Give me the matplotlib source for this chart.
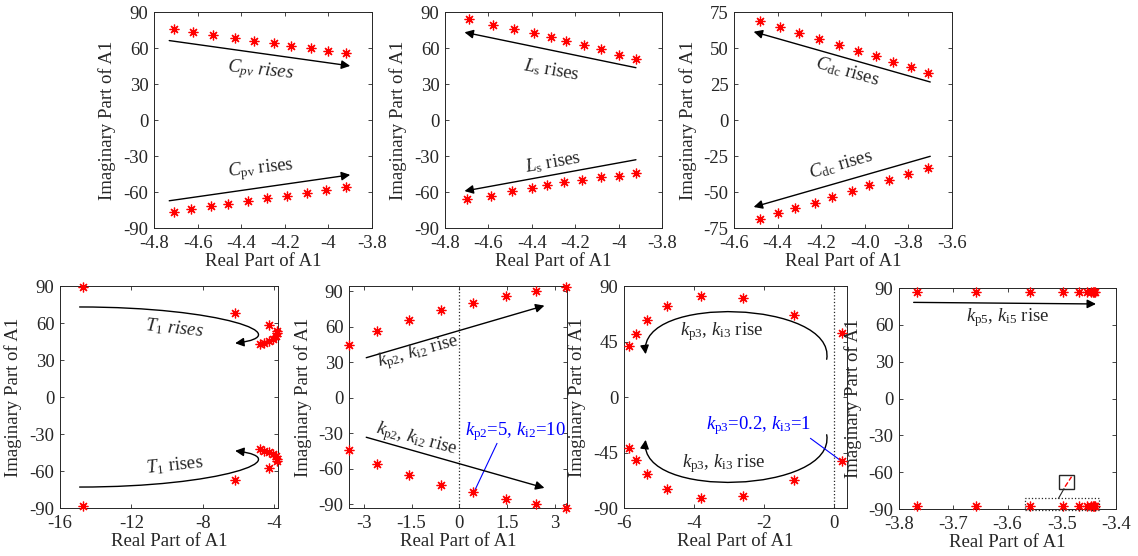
import numpy as np
import matplotlib
matplotlib.use('Agg')
import matplotlib.pyplot as plt
from matplotlib.path import Path
from matplotlib.patches import FancyArrowPatch, Rectangle

plt.rcParams['font.family'] = ['Liberation Serif', 'DejaVu Serif']
plt.rcParams['mathtext.fontset'] = 'custom'
plt.rcParams['mathtext.rm'] = 'Liberation Serif'
plt.rcParams['mathtext.it'] = 'Liberation Serif:italic'
plt.rcParams['axes.unicode_minus'] = False

TXT = '#262626'
RED = '#ff0000'
BLUE = '#0000ff'

# ---- data ----
# (a) C_pv
cpv_re_up = [-4.71, -4.62, -4.53, -4.43, -4.34, -4.25, -4.17, -4.08, -4.00, -3.92]
cpv_im_up = [75.6, 73.1, 70.9, 68.7, 66.2, 64.0, 62.0, 59.8, 57.6, 55.7]
cpv_re_lo = [-4.71, -4.63, -4.54, -4.46, -4.37, -4.28, -4.19, -4.10, -4.01, -3.92]
cpv_im_lo = [-76.4, -73.9, -72.0, -69.8, -67.6, -65.4, -63.1, -60.6, -58.4, -56.2]

# (b) L_s
ls_re_up = [-4.69, -4.58, -4.48, -4.39, -4.31, -4.24, -4.16, -4.08, -4.00, -3.92]
ls_im_up = [84.4, 79.2, 75.6, 72.2, 69.2, 66.1, 62.8, 59.2, 54.2, 50.6]
ls_re_lo = [-4.70, -4.59, -4.49, -4.40, -4.33, -4.25, -4.17, -4.08, -4.00, -3.92]
ls_im_lo = [-66.1, -63.6, -59.4, -56.7, -53.9, -51.4, -49.7, -47.2, -46.4, -43.9]

# (c) C_dc
cdc_re_up = [-4.48, -4.39, -4.30, -4.21, -4.12, -4.03, -3.95, -3.87, -3.79, -3.71]
cdc_im_up = [68.5, 64.4, 60.2, 56.0, 52.3, 48.1, 44.2, 40.3, 36.6, 32.9]
cdc_re_lo = [-4.48, -4.40, -4.32, -4.23, -4.15, -4.06, -3.98, -3.89, -3.80, -3.71]
cdc_im_lo = [-69.0, -64.8, -61.3, -57.4, -53.5, -49.5, -45.4, -41.4, -37.3, -33.1]

# (d) T_1
t1_re = [-14.7, -6.22, -4.32, -4.82, -4.60, -4.32, -4.09, -3.94, -3.85, -3.84]
t1_im_up = [89.2, 68.4, 58.2, 42.6, 43.4, 45.3, 46.9, 49.6, 52.0, 53.6]
t1_im_lo = [-88.7, -67.6, -57.6, -42.0, -43.4, -44.7, -46.3, -48.2, -50.3, -52.0]

# (e) kp2, ki2
k2_re = [-3.46, -2.57, -1.58, -0.58, 0.43, 1.46, 2.41, 3.36]
k2_im_up = [44.9, 56.7, 66.2, 74.0, 80.2, 85.8, 90.3, 94.0]
k2_im_lo = [-43.8, -55.9, -65.4, -73.2, -79.6, -85.0, -89.2, -92.8]

# (f) kp3, ki3
k3_re = [-5.87, -5.67, -5.34, -4.76, -3.80, -2.60, -1.15, 0.24]
k3_im_up = [41.5, 50.9, 62.3, 74.0, 81.6, 80.2, 66.7, 52.3]
k3_im_lo = [-41.2, -51.2, -62.3, -74.3, -81.8, -79.9, -66.9, -52.0]

# (g) kp5, ki5
k5_re = [-3.767, -3.659, -3.559, -3.498, -3.469, -3.453, -3.447, -3.443, -3.441, -3.439]
k5_im_up = [86.5] * 10
k5_im_lo = [-87.2] * 10

FS = 13.5


def style_ax(ax, xlim, xticks, xlabels, ylim, yticks):
    ax.set_xlim(xlim)
    ax.set_ylim(ylim)
    ax.set_xticks(xticks)
    ax.set_xticklabels(xlabels)
    ax.set_yticks(yticks)
    ax.set_yticklabels([str(v) for v in yticks])
    ax.tick_params(direction='in', top=True, right=True, labelsize=FS,
                   colors=TXT, length=3, width=0.6, pad=4)
    ax.tick_params(axis='x', pad=5)
    for s in ax.spines.values():
        s.set_color(TXT)
        s.set_linewidth(0.7)
    ax.set_xlabel('Real Part of A1', fontsize=FS, color=TXT, labelpad=1)
    ax.set_ylabel('Imaginary Part of A1', fontsize=FS, color=TXT, labelpad=5)


def stars(ax, x, y):
    ax.plot(x, y, ls='none', marker=(8, 2, 0), ms=7, mew=0.9,
            color=RED, clip_on=False, zorder=3)


def arrow(ax, start, end, color='k', lw=1.0):
    ax.annotate('', xy=end, xytext=start,
                arrowprops=dict(arrowstyle='-|>', color=color, lw=lw,
                                mutation_scale=13, shrinkA=0, shrinkB=0))


def curve(ax, p0, p1, p2, p3):
    path = Path([p0, p1, p2, p3], [Path.MOVETO, Path.CURVE4, Path.CURVE4, Path.CURVE4])
    ax.add_patch(FancyArrowPatch(path=path, arrowstyle='-|>', color='k',
                                 lw=1.0, mutation_scale=13))


def label(ax, x, y, s, rot=0, color=TXT, **kw):
    ax.text(x, y, s, fontsize=FS, color=color, rotation=rot,
            ha='center', va='center', rotation_mode='anchor', **kw)


fig = plt.figure(figsize=(11.38, 5.56), dpi=100)

yt90 = [-90, -60, -30, 0, 30, 60, 90]

# (a)
ax = fig.add_axes([0.1353, 0.5899, 0.1916, 0.3885])
style_ax(ax, (-4.8, -3.8), [-4.8, -4.6, -4.4, -4.2, -4.0, -3.8],
         ['-4.8', '-4.6', '-4.4', '-4.2', '-4', '-3.8'], (-90, 90), yt90)
stars(ax, cpv_re_up, cpv_im_up)
stars(ax, cpv_re_lo, cpv_im_lo)
arrow(ax, (-4.73, 66.2), (-3.90, 45.1))
arrow(ax, (-4.73, -67.3), (-3.90, -45.7))
label(ax, -4.31, 41.0, r'$C_{\it pv}$ rises', rot=-6, style='italic')
label(ax, -4.31, -41.0, r'$C_{\rm pv}$ rises', rot=6)

# (b)
ax = fig.add_axes([0.3910, 0.5899, 0.1907, 0.3885])
style_ax(ax, (-4.8, -3.8), [-4.8, -4.6, -4.4, -4.2, -4.0, -3.8],
         ['-4.8', '-4.6', '-4.4', '-4.2', '-4', '-3.8'], (-90, 90), yt90)
stars(ax, ls_re_up, ls_im_up)
stars(ax, ls_re_lo, ls_im_lo)
arrow(ax, (-3.92, 43.6), (-4.71, 73.1))
arrow(ax, (-3.92, -33.1), (-4.71, -59.2))
label(ax, -4.31, 41.5, r'$L_{\rm s}$ rises', rot=-10)
label(ax, -4.30, -35.5, r'$L_{\rm s}$ rises', rot=10)

# (c)
ax = fig.add_axes([0.6450, 0.5899, 0.1916, 0.3885])
style_ax(ax, (-4.6, -3.6), [-4.6, -4.4, -4.2, -4.0, -3.8, -3.6],
         ['-4.6', '-4.4', '-4.2', '-4.0', '-3.8', '-3.6'], (-75, 75),
         [-75, -50, -25, 0, 25, 50, 75])
stars(ax, cdc_re_up, cdc_im_up)
stars(ax, cdc_re_lo, cdc_im_lo)
arrow(ax, (-3.70, 26.4), (-4.51, 61.3))
arrow(ax, (-3.70, -25.2), (-4.51, -60.4))
label(ax, -4.08, 33.5, r'$C_{\rm dc}$ rises', rot=-16)
label(ax, -4.11, -31.0, r'$C_{\rm dc}$ rises', rot=16)

# (d)
ax = fig.add_axes([0.0527, 0.0863, 0.1916, 0.3993])
style_ax(ax, (-16, -3.8), [-16, -12, -8, -4], ['-16', '-12', '-8', '-4'],
         (-90, 90), yt90)
stars(ax, t1_re, t1_im_up)
stars(ax, t1_re, t1_im_lo)
curve(ax, (-14.9, 73), (-7.0, 73), (-2.6, 50), (-6.2, 43.6))
curve(ax, (-14.9, -73), (-7.0, -73), (-2.6, -50), (-6.2, -43.6))
label(ax, -9.6, 55.5, r'$T_{\it 1}$ rises', rot=-6, style='italic')
label(ax, -9.6, -55.0, r'$T_{\rm 1}$ rises', rot=6)

# (e)
ax = fig.add_axes([0.3067, 0.0863, 0.1916, 0.3993])
style_ax(ax, (-3.46, 3.38), [-3, -1.5, 0, 1.5, 3], ['-3', '-1.5', '0', '1.5', '3'],
         (-93, 94.6), yt90)
ax.axvline(0, color=TXT, ls=':', lw=0.9)
stars(ax, k2_re, k2_im_up)
stars(ax, k2_re, k2_im_lo)
arrow(ax, (-2.92, 34.0), (2.67, 78.0))
arrow(ax, (-2.92, -33.2), (2.67, -76.0))
label(ax, -1.3, 38.5, r'$k_{\rm p2}$, $k_{\rm i2}$ rise', rot=15)
label(ax, -1.35, -35.5, r'$k_{\rm p2}$, $k_{\rm i2}$ rise', rot=-15)
label(ax, 1.75, -28.5, r'$k_{\rm p2}$=5, $k_{\rm i2}$=10', color=BLUE)
ax.plot([1.18, 0.47], [-38.5, -79.0], color=BLUE, lw=0.8)

# (f)
ax = fig.add_axes([0.5483, 0.0863, 0.1960, 0.3993])
style_ax(ax, (-6, 0.37), [-6, -4, -2, 0], ['-6', '-4', '-2', '0'],
         (-90, 90), [-90, -45, 0, 45, 90])
ax.axvline(0, color=TXT, ls=':', lw=0.9)
stars(ax, k3_re, k3_im_up)
stars(ax, k3_re, k3_im_lo)
curve(ax, (-0.21, 30.6), (0.05, 78), (-5.6, 84), (-5.38, 34.7))
curve(ax, (-0.21, -30.6), (0.05, -78), (-5.6, -84), (-5.38, -34.7))
label(ax, -3.2, 53.0, r'$k_{\rm p3}$, $k_{\rm i3}$ rise')
label(ax, -3.15, -54.0, r'$k_{\rm p3}$, $k_{\rm i3}$ rise')
label(ax, -2.15, -23.5, r'$k_{\rm p3}$=0.2, $k_{\rm i3}$=1', color=BLUE)
ax.plot([-0.67, 0.24], [-33.6, -52.6], color=BLUE, lw=0.8)

# (g)
ax = fig.add_axes([0.7900, 0.0845, 0.1907, 0.3975])
style_ax(ax, (-3.8, -3.4), [-3.8, -3.7, -3.6, -3.5, -3.4],
         ['-3.8', '-3.7', '-3.6', '-3.5', '-3.4'], (-90, 90), yt90)
stars(ax, k5_re, k5_im_up)
stars(ax, k5_re, k5_im_lo)
arrow(ax, (-3.773, 78.3), (-3.437, 77.0))
label(ax, -3.60, 66.0, r'$k_{\rm p5}$, $k_{\rm i5}$ rise')
# zoom box around the lower cluster
ax.add_patch(Rectangle((-3.567, -90.5), 0.136, 9.2, fill=False, ec=TXT,
                       ls=':', lw=0.9, clip_on=False, zorder=4))
ax.add_patch(Rectangle((-3.506, -73.5), 0.028, 11.5, fill=False, ec=TXT,
                       lw=1.0, zorder=4))
ax.plot([-3.494, -3.482], [-71.8, -63.7], color=RED, ls='--', lw=1.0)
ax.plot([-3.496, -3.506], [-73.5, -81.3], color=TXT, lw=0.8)

fig.savefig('out.png', dpi=100)
